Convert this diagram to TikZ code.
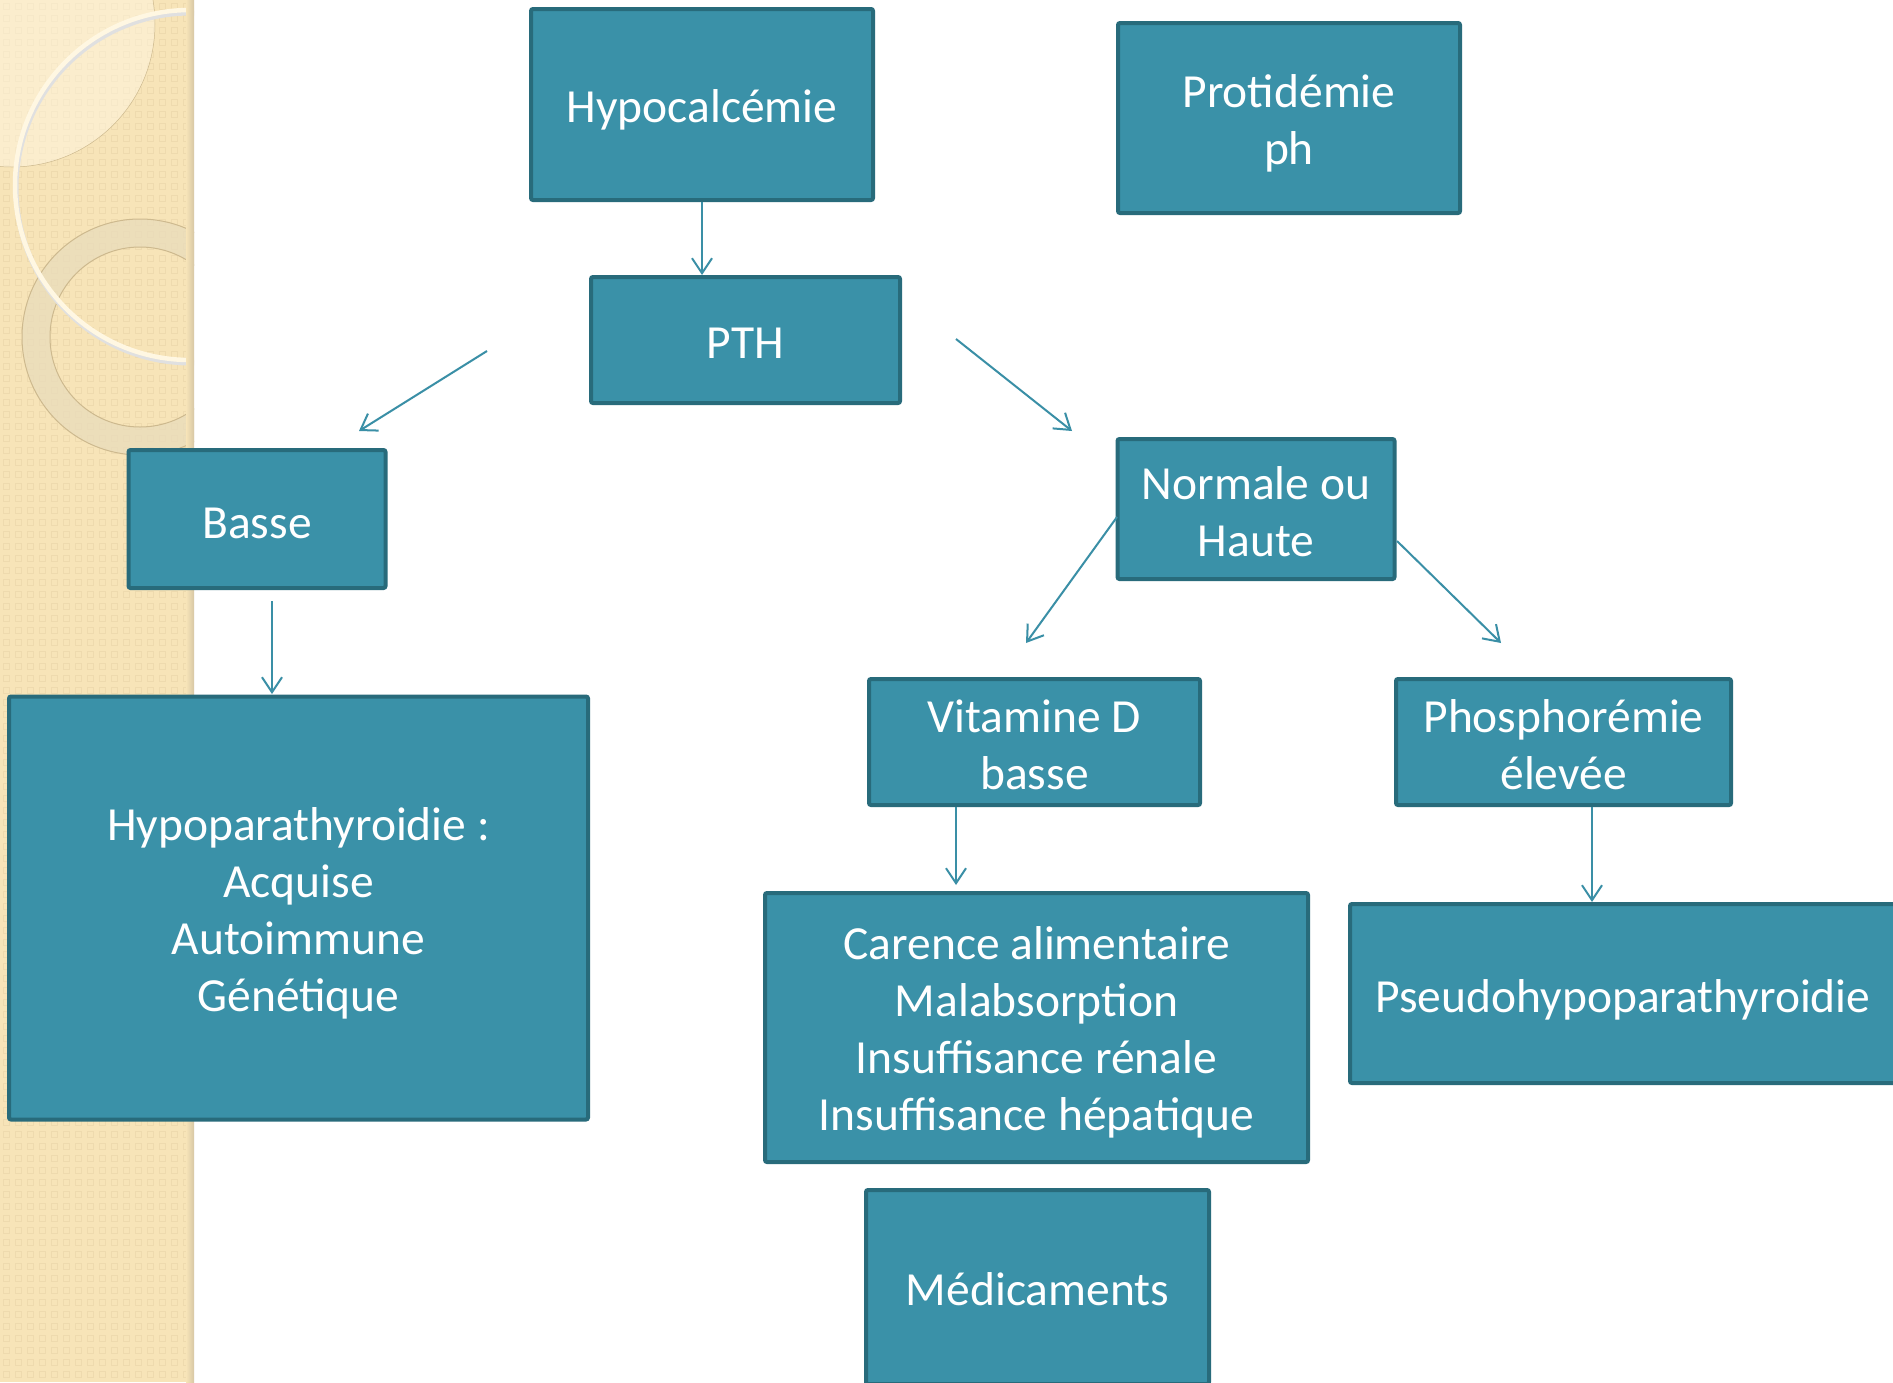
\documentclass[tikz,border=0pt]{standalone}
\usepackage{fontspec}
\setmainfont{Carlito}
\usetikzlibrary{arrows.meta}
\definecolor{boxfill}{HTML}{3A91A8}
\definecolor{boxline}{HTML}{286B7B}
\definecolor{arrowc}{HTML}{3A8FA6}
\definecolor{beige}{HTML}{F7E4B8}
\definecolor{patc}{HTML}{EEDAAE}
\definecolor{cream}{HTML}{FFF7E2}
\definecolor{ringc}{HTML}{E9DCBC}
\definecolor{ringb}{HTML}{CDB98E}
\tikzset{
  box/.style={draw=boxline, fill=boxfill, line width=4pt, rounded corners=2pt, inner sep=0pt},
  txt/.style={text=white, align=center, inner sep=0pt, font=\fontsize{47.5}{57}\selectfont},
  arr/.style={draw=arrowc, line width=2pt, -{Straight Barb[length=15pt,width=20pt]}}
}
\begin{document}
\begin{tikzpicture}[x=1pt,y=-1pt]
\useasboundingbox (0,0) rectangle (1893,1382);
\clip (0,0) rectangle (1893,1382);
\fill[white] (0,0) rectangle (1893,1382);
% decorative strip
\begin{scope}
  \clip (0,0) rectangle (194,1382);
  \fill[beige] (0,0) rectangle (194,1382);
  \draw[patc, line width=1pt] \foreach \i in {0,...,16} { \foreach \j in {0,...,115} { (\i*12+3,\j*12+3) rectangle ++(6,6) } };
  \fill[cream, opacity=0.5] (12,24) circle (143);
  \draw[ringb, line width=0.5pt] (12,24) circle (143);
  \fill[ringc, opacity=0.75, even odd rule] (140,337) circle (118) (140,337) circle (90);
  \draw[ringb, line width=1pt] (140,337) circle (118) (140,337) circle (90);
  \draw[black!12, line width=5pt] (191,188) circle (175);
  \draw[cream, line width=4.5pt] (190,185) circle (175);
  \shade[left color=beige, right color=ringb!80] (186,0) rectangle (194,1382);
\end{scope}
% boxes
\node[box, minimum width=342pt, minimum height=191pt] (hypo) at (702,104.5) {};
\node[box, minimum width=342pt, minimum height=190pt] (prot) at (1289,118) {};
\node[box, minimum width=309pt, minimum height=126pt] (pth) at (745.5,340) {};
\node[box, minimum width=257pt, minimum height=138pt] (basse) at (257,519) {};
\node[box, minimum width=579pt, minimum height=423pt] (hypop) at (298.5,908) {};
\node[box, minimum width=277pt, minimum height=140pt] (norm) at (1256,509) {};
\node[box, minimum width=331pt, minimum height=126pt] (vit) at (1034.5,742) {};
\node[box, minimum width=335pt, minimum height=126pt] (phos) at (1563.5,742) {};
\node[box, minimum width=543pt, minimum height=269pt] (car) at (1036.5,1027.5) {};
\node[box, minimum width=546pt, minimum height=179pt] (pseudo) at (1623,993.5) {};
\node[box, minimum width=343pt, minimum height=194pt] (medic) at (1037.5,1287) {};
% texts
\node[txt] (hypo-t) at ([yshift=-5pt]hypo.center) {Hypocalcémie};
\node[txt] (prot-t) at ([yshift=-5pt]prot.center) {Protidémie\\ph};
\node[txt] (pth-t) at ([yshift=-3pt]pth.center) {PTH};
\node[txt] (basse-t) at ([yshift=-4pt]basse.center) {Basse};
\node[txt] (hypop-t) at ([yshift=-5pt]hypop.center) {Hypoparathyroidie :\\Acquise\\Autoimmune\\Génétique};
\node[txt] (norm-t) at ([yshift=-3pt]norm.center) {Normale ou\\Haute};
\node[txt] (vit-t) at ([yshift=-3pt]vit.center) {Vitamine D\\basse};
\node[txt] (phos-t) at ([yshift=-3pt]phos.center) {Phosphorémie\\élevée};
\node[txt] (car-t) at ([yshift=-5pt]car.center) {Carence alimentaire\\Malabsorption\\Insuffisance rénale\\Insuffisance hépatique};
\node[txt] (pseudo-t) at ([yshift=-6pt]pseudo.center) {Pseudohypoparathyroidie};
\node[txt] (medic-t) at ([yshift=-2pt]medic.center) {Médicaments};
% connector end points
\coordinate (p2s) at (487,351);  \coordinate (p2e) at (359,431);
\coordinate (p3s) at (956,339);  \coordinate (p3e) at (1072,431);
\coordinate (p4s) at (272,601);  \coordinate (p4e) at (272,694);
\coordinate (p5s) at (1117,517); \coordinate (p5e) at (1026,643);
\coordinate (p6s) at (1397,541); \coordinate (p6e) at (1501,643);
\coordinate (p7x) at (956,0);
\coordinate (p8x) at (1592,0);
% connectors
\draw[arr] (hypo.south) -- (pth.north -| hypo.south);
\draw[arr] (p2s) -- (p2e);
\draw[arr] (p3s) -- (p3e);
\draw[arr] (p4s) -- (p4e);
\draw[arr] (p5s) -- (p5e);
\draw[arr] (p6s) -- (p6e);
\draw[arr] (vit.south -| p7x) -- ([yshift=6pt]car.north -| p7x);
\draw[arr] (phos.south -| p8x) -- (pseudo.north -| p8x);
\end{tikzpicture}
\end{document}
